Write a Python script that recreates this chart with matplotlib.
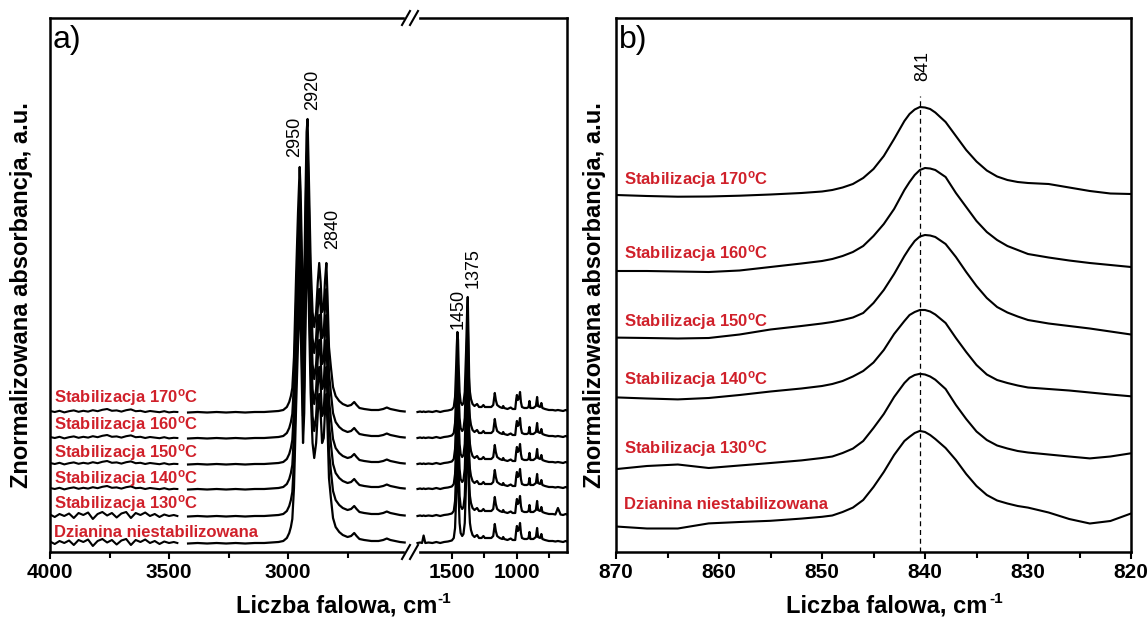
import matplotlib.pyplot as plt
from matplotlib.lines import Line2D
from matplotlib.patches import Rectangle
from matplotlib.ticker import MultipleLocator, FixedLocator

plt.rcParams['font.family'] = 'Liberation Sans'
plt.rcParams['mathtext.fontset'] = 'custom'
plt.rcParams['mathtext.rm'] = 'Liberation Sans'
plt.rcParams['mathtext.bf'] = 'Liberation Sans:bold'
plt.rcParams['mathtext.default'] = 'bf'

RED = '#d0202a'

# series, bottom to top
labels = ['Dzianina niestabilizowana',
          'Stabilizacja 130$^{o}$C',
          'Stabilizacja 140$^{o}$C',
          'Stabilizacja 150$^{o}$C',
          'Stabilizacja 160$^{o}$C',
          'Stabilizacja 170$^{o}$C']

# ---- panel a: full range spectra, stacked ----
offsets_a = [0.09, 0.36, 0.63, 0.88, 1.14, 1.40]

# 4000-3465 noisy part
xa_noise = [4000, 3980, 3960, 3940, 3920, 3900, 3880, 3860, 3840, 3820, 3800, 3780, 3760, 3740,
            3720, 3700, 3680, 3660, 3640, 3620, 3600, 3580, 3560, 3540, 3520, 3500, 3480, 3465]
noise_quiet = [0.010, 0.000, 0.012, -0.004, 0.008, 0.016, 0.002, 0.012, 0.004, 0.018, 0.008, 0.022, 0.030, 0.012,
               0.016, 0.004, 0.018, 0.026, 0.008, 0.012, 0.000, 0.010, 0.004, -0.002, 0.008, -0.004, 0.002, 0.000]
noise_loud = [0.015, -0.010, 0.020, 0.000, 0.025, -0.020, 0.030, 0.010, 0.035, -0.030, 0.020, 0.040, 0.005, 0.030,
              -0.015, 0.025, 0.040, -0.020, 0.030, 0.010, 0.035, 0.000, 0.020, -0.010, 0.015, 0.000, 0.010, 0.000]
noise_kind = ['loud', 'loud', 'quiet', 'quiet', 'quiet', 'quiet']

# 3420-2510 C-H stretching region
xa_main = [3420, 3380, 3340, 3300, 3260, 3220, 3180, 3140, 3100, 3070,
           3040, 3020, 3005, 2995, 2988, 2982, 2975, 2966, 2958, 2951,
           2947, 2942, 2937, 2932, 2927, 2922, 2918, 2913, 2905, 2897,
           2890, 2882, 2875, 2869, 2863, 2857, 2850, 2845, 2839, 2834,
           2828, 2820, 2811, 2800, 2785, 2770, 2750, 2735, 2722, 2712,
           2700, 2680, 2650, 2620, 2600, 2585, 2570, 2550, 2530, 2510]
ha_main = [-0.005, 0.0, -0.005, 0.0, -0.005, 0.0, -0.005, 0.0, 0.0, 0.005,
           0.01, 0.02, 0.05, 0.1, 0.16, 0.24, 0.55, 1.37, 2.0, 2.45,
           2.2, 1.6, 1.0, 1.3, 2.1, 2.8, 2.93, 2.4, 1.5, 1.0,
           0.85, 1.0, 1.3, 1.49, 1.3, 1.0, 1.05, 1.3, 1.49, 1.15,
           0.65, 0.45, 0.25, 0.16, 0.11, 0.08, 0.06, 0.07, 0.1, 0.07,
           0.04, 0.03, 0.02, 0.02, 0.03, 0.045, 0.03, 0.02, 0.01, 0.005]

# 1765-610 fingerprint region
xa_right = [1765, 1745, 1730, 1718, 1705, 1680, 1650, 1620, 1590, 1560,
            1530, 1500, 1485, 1475, 1468, 1462, 1457, 1452, 1447, 1440,
            1432, 1420, 1410, 1400, 1390, 1382, 1377, 1372, 1366, 1360,
            1352, 1340, 1325, 1305, 1290, 1270, 1256, 1245, 1220, 1195,
            1180, 1168, 1160, 1150, 1130, 1110, 1103, 1095, 1070, 1045,
            1030, 1010, 1002, 997, 990, 980, 973, 966, 958, 940,
            920, 907, 900, 893, 870, 850, 841, 834, 818, 808,
            800, 780, 750, 720, 700, 680, 660, 640, 620, 610]
ha_right = [0.0, 0.005, 0.0, 0.005, 0.0, 0.005, 0.0, 0.01, 0.0, 0.01,
            0.015, 0.025, 0.05, 0.15, 0.4, 0.65, 0.8, 0.72, 0.45, 0.2,
            0.1, 0.07, 0.09, 0.2, 0.6, 1.0, 1.15, 0.8, 0.35, 0.2,
            0.13, 0.08, 0.06, 0.08, 0.05, 0.05, 0.07, 0.05, 0.05, 0.05,
            0.07, 0.19, 0.12, 0.07, 0.05, 0.04, 0.06, 0.04, 0.03, 0.045,
            0.03, 0.03, 0.13, 0.17, 0.12, 0.14, 0.2, 0.1, 0.05, 0.04,
            0.04, 0.05, 0.11, 0.04, 0.04, 0.06, 0.15, 0.06, 0.05, 0.09,
            0.04, 0.03, 0.02, 0.02, 0.015, 0.02, 0.015, 0.01, 0.02, 0.015]
bump_1718 = [0.07, 0, 0, 0, 0, 0]
bump_680 = [0, 0.06, 0, 0, 0, 0]

peaks_a_left = [(2971, 4.15, '2950'), (2895, 4.62, '2920'), (2811, 3.23, '2840')]
peaks_a_right = [(1453, 2.43, '1450'), (1338, 2.84, '1375')]
label_y_a = [0.15, 0.44, 0.69, 0.95, 1.23, 1.50]

# ---- panel b: 870-820 zoom ----
xb = [870, 867, 864, 861, 858, 855, 852, 850, 849, 848, 847, 846, 845, 844, 843, 842, 841.5, 841,
      840.5, 840, 839.5, 839, 838, 837, 836, 835, 834, 833, 832, 831, 830, 828, 826, 824, 822, 820]
b_dz = [0.255, 0.235, 0.235, 0.286, 0.30, 0.312, 0.334, 0.352, 0.365, 0.40, 0.444, 0.52, 0.65, 0.80, 0.97, 1.11,
        1.152, 1.19, 1.211, 1.20, 1.17, 1.13, 1.04, 0.92, 0.78, 0.66, 0.57, 0.515, 0.485, 0.46, 0.444, 0.395,
        0.33, 0.285, 0.31, 0.385]
b_130 = [0.829, 0.86, 0.875, 0.84, 0.865, 0.89, 0.916, 0.94, 0.955, 0.99, 1.034, 1.11, 1.24, 1.38, 1.55, 1.69,
         1.742, 1.77, 1.782, 1.775, 1.755, 1.723, 1.63, 1.47, 1.33, 1.205, 1.12, 1.065, 1.035, 1.01, 0.995, 0.975,
         0.955, 0.936, 0.955, 0.987]
b_140 = [1.546, 1.535, 1.526, 1.54, 1.57, 1.605, 1.635, 1.66, 1.68, 1.71, 1.755, 1.81, 1.895, 2.02, 2.18, 2.31,
         2.37, 2.40, 2.42, 2.42, 2.405, 2.375, 2.29, 2.14, 2.00, 1.87, 1.775, 1.72, 1.69, 1.665, 1.645, 1.63,
         1.615, 1.595, 1.575, 1.557]
b_150 = [2.144, 2.14, 2.135, 2.14, 2.175, 2.225, 2.26, 2.285, 2.30, 2.32, 2.345, 2.39, 2.49, 2.62, 2.78, 2.96,
         3.04, 3.11, 3.155, 3.17, 3.165, 3.15, 3.08, 2.95, 2.80, 2.66, 2.54, 2.45, 2.395, 2.355, 2.32, 2.285,
         2.26, 2.235, 2.205, 2.175]
b_160 = [2.81, 2.81, 2.805, 2.80, 2.815, 2.85, 2.885, 2.91, 2.93, 2.96, 3.00, 3.06, 3.16, 3.28, 3.43, 3.62,
         3.70, 3.77, 3.82, 3.84, 3.835, 3.82, 3.75, 3.59, 3.45, 3.31, 3.20, 3.12, 3.06, 3.02, 2.98, 2.945,
         2.915, 2.89, 2.87, 2.85]
b_170 = [3.57, 3.56, 3.553, 3.555, 3.563, 3.575, 3.59, 3.605, 3.62, 3.645, 3.68, 3.74, 3.83, 3.96, 4.13, 4.31,
         4.38, 4.425, 4.45, 4.445, 4.43, 4.395, 4.30, 4.16, 4.02, 3.905, 3.815, 3.755, 3.72, 3.70, 3.69, 3.68,
         3.645, 3.61, 3.585, 3.58]
series_b = [b_dz, b_130, b_140, b_150, b_160, b_170]
label_y_b = [0.43, 0.99, 1.68, 2.26, 2.94, 3.68]
peak_b = 840.5

W, H = 1148, 617
def fx(px):
    return px / W
def fy(py):
    return 1 - py / H

fig = plt.figure(figsize=(11.48, 6.17), dpi=100)
top, bot = 18, 552
axL = fig.add_axes([fx(50), fy(bot), (413 - 50) / W, (bot - top) / H])
axR = fig.add_axes([fx(413), fy(bot), (567 - 413) / W, (bot - top) / H])
axB = fig.add_axes([fx(616), fy(bot), (1131 - 616) / W, (bot - top) / H])

for i in range(6):
    off = offsets_a[i]
    nz = noise_loud if noise_kind[i] == 'loud' else noise_quiet
    axL.plot(xa_noise, [off + v for v in nz], color='k', lw=1.5)
    axL.plot(xa_main, [off + v for v in ha_main], color='k', lw=1.6)
    yr = [off + v for v in ha_right]
    yr[xa_right.index(1718)] += bump_1718[i]
    yr[xa_right.index(680)] += bump_680[i]
    axR.plot(xa_right, yr, color='k', lw=1.6)
    axL.text(3982, label_y_a[i], labels[i], color=RED, fontsize=12, fontweight='bold',
             ha='left', va='baseline')
    axB.plot(xb, series_b[i], color='k', lw=1.5)
    axB.text(869.2, label_y_b[i], labels[i], color=RED, fontsize=12, fontweight='bold',
             ha='left', va='baseline')

for x, y, t in peaks_a_left:
    axL.text(x, y, t, rotation=90, fontsize=13, ha='center', va='center')
for x, y, t in peaks_a_right:
    axR.text(x, y, t, rotation=90, fontsize=13, ha='center', va='center')

axB.plot([peak_b, peak_b], [0, 4.56], color='k', lw=0.9, ls=(0, (4, 3)))
axB.text(840.2, 4.86, '841', rotation=90, fontsize=13, ha='center', va='center')

axL.set_xlim(4000, 2475)
axR.set_xlim(1800, 610)
axB.set_xlim(870, 820)
axL.xaxis.set_major_locator(FixedLocator([4000, 3500, 3000]))
axL.xaxis.set_minor_locator(FixedLocator([3750, 3250, 2750]))
axR.xaxis.set_major_locator(FixedLocator([1500, 1000]))
axR.xaxis.set_minor_locator(FixedLocator([1250, 750]))
axB.xaxis.set_major_locator(MultipleLocator(10))
axB.xaxis.set_minor_locator(MultipleLocator(5))
for ax in (axL, axR, axB):
    ax.set_ylim(0, 5.34)
    ax.set_yticks([])
    for s in ax.spines.values():
        s.set_linewidth(1.8)
    ax.tick_params(axis='x', which='major', direction='out', length=5, width=1.5,
                   labelsize=15, pad=3)
    ax.tick_params(axis='x', which='minor', direction='out', length=4, width=1.5)
    for lab in ax.get_xticklabels():
        lab.set_fontweight('bold')

axL.spines['right'].set_visible(False)
axR.spines['left'].set_visible(False)

# axis break marks
for yb in (top, bot):
    fig.add_artist(Rectangle((fx(405), fy(yb + 3)), 13 / W, 6 / H, transform=fig.transFigure,
                             color='white', zorder=10))
    for x0 in (402, 410):
        fig.add_artist(Line2D([fx(x0), fx(x0 + 8)], [fy(yb + 7), fy(yb - 7)],
                              transform=fig.transFigure, color='k', lw=1.5, zorder=11))

fig.text(fx(53), fy(25), 'a)', fontsize=23, ha='left', va='top')
fig.text(fx(619), fy(25), 'b)', fontsize=23, ha='left', va='top')

# x label with a small "-1" superscript
renderer = fig.canvas.get_renderer()
def xlabel(cx):
    t1 = fig.text(0, fy(612), 'Liczba falowa, cm', fontsize=17, fontweight='bold',
                  ha='left', va='baseline')
    t2 = fig.text(0, fy(603), '-1', fontsize=11, fontweight='bold', ha='left', va='baseline')
    w1 = t1.get_window_extent(renderer).width
    w2 = t2.get_window_extent(renderer).width
    x0 = cx - (w1 + w2) / 2
    t1.set_x(fx(x0))
    t2.set_x(fx(x0 + w1 + 1))

xlabel(343)
xlabel(894)

ylab = 'Znormalizowana absorbancja, a.u.'
fig.text(fx(22), fy(295), ylab, fontsize=17, fontweight='bold', rotation=90, ha='center', va='center')
fig.text(fx(594), fy(295), ylab, fontsize=17, fontweight='bold', rotation=90, ha='center', va='center')

fig.savefig('out.png', dpi=100)
